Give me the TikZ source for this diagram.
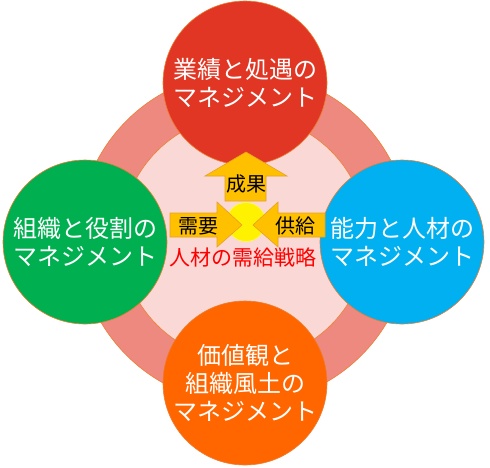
\documentclass[tikz,border=0pt]{standalone}
\usepackage{fontspec}
\setmainfont{Noto Sans CJK JP}
\usetikzlibrary{positioning}
\definecolor{ringsalmon}{RGB}{238,137,128}
\definecolor{ringpale}{RGB}{249,216,213}
\definecolor{edgeorange}{RGB}{237,125,49}
\definecolor{mgmtred}{RGB}{225,54,35}
\definecolor{mgmtgreen}{RGB}{0,176,80}
\definecolor{mgmtblue}{RGB}{0,176,240}
\definecolor{mgmtorange}{RGB}{255,102,0}
\definecolor{arrowgold}{RGB}{255,192,0}
\definecolor{arrowedge}{RGB}{230,160,40}

\begin{document}
\begin{tikzpicture}[x=1pt, y=-1pt,
    mgmt/.style={circle, draw=edgeorange, line width=0.6pt, minimum size=164pt, inner sep=0pt, align=center, text=white, font=\fontsize{24}{28}\selectfont},
    flow/.style={draw=arrowedge, fill=arrowgold, line width=0.6pt},
    flowtext/.style={inner sep=0pt, font=\fontsize{20}{24}\selectfont}]
  \useasboundingbox (0,0) rectangle (490,467);

  % ring behind the four circles
  \fill[ringsalmon, draw=edgeorange, line width=0.6pt] (244,238) circle (166);
  \fill[ringpale, draw=edgeorange, line width=0.6pt] (244,238) circle (123);

  \node[mgmt, fill=mgmtred] (perf) at (245,83) {業績と処遇の\\マネジメント};
  \node[mgmt, fill=mgmtgreen] (org) at (85,242) {組織と役割の\\マネジメント};
  \node[mgmt, fill=mgmtblue] (talent) at (402,242) {能力と人材の\\マネジメント};
  \node[mgmt, fill=mgmtorange] (culture) at (245,383) {価値観と\\組織風土の\\マネジメント};

  % centre
  \fill[yellow, draw=yellow!60!white, line width=0.6pt] (246,222) circle (19.5);
  \draw[flow] (225,201) -- (225,176) -- (205,176) -- (246,152) -- (287,176) -- (266,176) -- (266,201) -- cycle;
  \draw[flow] (170,213) -- (217,213) -- (217,202) -- (242,225) -- (217,247) -- (217,237) -- (170,237) -- cycle;
  \draw[flow] (325,213) -- (278,213) -- (278,202) -- (253,225) -- (278,247) -- (278,237) -- (325,237) -- cycle;

  \node[flowtext] (result) at (246,184) {成果};
  \node[flowtext] (demand) at (198,226) {需要};
  \node[flowtext] (supply) at (295,226) {供給};
  \node[flowtext, text=red, font=\fontsize{21}{24}\selectfont] (strategy) at (243,257) {人材の需給戦略};
\end{tikzpicture}
\end{document}
